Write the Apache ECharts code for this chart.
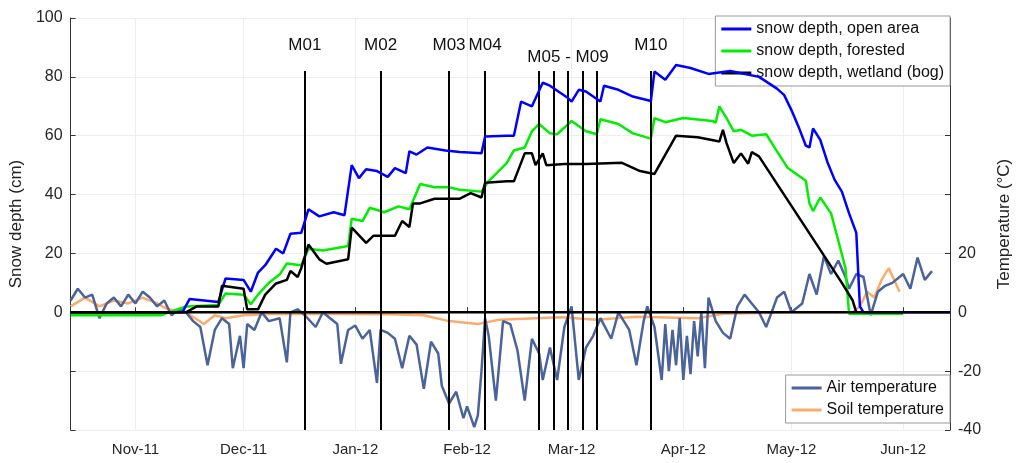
<!DOCTYPE html>
<html><head><meta charset="utf-8">
<script src="https://cdn.jsdelivr.net/npm/echarts@6/dist/echarts.min.js"></script>
<style>html,body{margin:0;padding:0;background:#fff}#c{width:1021px;height:463px}</style>
</head><body><div id="c"></div>
<script>
const openDates=['2011-10-14','2011-11-14','2011-11-16','2011-11-24','2011-11-26','2011-12-01','2011-12-03','2011-12-05','2011-12-07','2011-12-10','2011-12-12','2011-12-14','2011-12-17','2011-12-19','2011-12-22','2011-12-26','2011-12-29','2011-12-31','2012-01-02','2012-01-04','2012-01-07','2012-01-10','2012-01-12','2012-01-15','2012-01-16','2012-01-18','2012-01-21','2012-01-26','2012-01-30','2012-02-05','2012-02-06','2012-02-12','2012-02-14','2012-02-16','2012-02-19','2012-02-22','2012-02-24','2012-02-29','2012-03-01','2012-03-03','2012-03-05','2012-03-09','2012-03-10','2012-03-14','2012-03-18','2012-03-23','2012-03-24','2012-03-27','2012-03-30','2012-04-03','2012-04-08','2012-04-14','2012-04-22','2012-04-27','2012-04-29','2012-05-01','2012-05-03','2012-05-05','2012-05-06','2012-05-07','2012-05-09','2012-05-11','2012-05-13','2012-05-15','2012-05-17','2012-05-19','2012-05-20','2012-05-21','2012-06-14'];
const openVals=[0,0,4.5,3.5,11.5,11,7,13.5,16,21.6,20,26.7,27,35,32.6,34,33,50,45.6,48.6,48,46,49,47.3,54.7,53.6,56,55,54.5,54,59.7,60,60,71.6,70,78,77,72.8,71.6,75.6,75,71.6,77,75.6,73.3,71.8,81.8,79,84,83,81,82,80,76,73.8,68.7,63,56.6,56,62.5,58.6,51,45,41,33.6,27,2,0,0];
const forestDates=['2011-10-14','2011-11-08','2011-11-15','2011-11-24','2011-11-26','2011-12-01','2011-12-03','2011-12-05','2011-12-08','2011-12-11','2011-12-13','2011-12-17','2011-12-19','2011-12-23','2011-12-30','2011-12-31','2012-01-03','2012-01-05','2012-01-09','2012-01-13','2012-01-16','2012-01-19','2012-01-23','2012-01-27','2012-01-30','2012-02-05','2012-02-07','2012-02-12','2012-02-14','2012-02-17','2012-02-19','2012-02-21','2012-02-24','2012-02-26','2012-03-01','2012-03-05','2012-03-08','2012-03-09','2012-03-14','2012-03-18','2012-03-23','2012-03-24','2012-03-27','2012-04-01','2012-04-09','2012-04-10','2012-04-11','2012-04-13','2012-04-15','2012-04-17','2012-04-20','2012-04-24','2012-04-27','2012-04-30','2012-05-05','2012-05-06','2012-05-07','2012-05-09','2012-05-12','2012-05-14','2012-05-16','2012-05-17','2012-06-01'];
const forestVals=[-1,-1,2,2.5,6.4,6,2.7,6,10,12.8,16.6,16,21.6,21,22.5,31.8,31,35.5,34,36,35,43.6,42.5,42.5,41.6,41,44.6,50.7,55,56,61.5,64,60.8,60.5,65,61.5,60.5,65.6,64,60.8,59,66,64.6,66,65,64.5,70,66,61.5,62,60,60.5,54.7,49,44.7,37,34.4,39,33.6,24.4,15,-0.5,-0.5];
const bogDates=['2011-10-14','2011-11-15','2011-11-18','2011-11-24','2011-11-25','2011-12-01','2011-12-02','2011-12-05','2011-12-07','2011-12-10','2011-12-13','2011-12-14','2011-12-16','2011-12-17','2011-12-19','2011-12-22','2011-12-24','2011-12-30','2011-12-31','2012-01-04','2012-01-06','2012-01-12','2012-01-14','2012-01-16','2012-01-17','2012-01-19','2012-01-23','2012-01-30','2012-02-02','2012-02-05','2012-02-06','2012-02-12','2012-02-14','2012-02-17','2012-02-19','2012-02-20','2012-02-22','2012-02-23','2012-02-28','2012-03-05','2012-03-15','2012-03-20','2012-03-24','2012-03-30','2012-04-05','2012-04-10','2012-04-11','2012-04-12','2012-04-13','2012-04-15','2012-04-17','2012-04-19','2012-04-20','2012-04-22','2012-05-15','2012-05-18','2012-05-19'];
const bogVals=[0,0,2,2,9,8,1,1,6,9.8,11,14,12,15,23,18,16.5,18,28.8,23.6,26,26,31,29,37,37,38.6,38.6,40.5,39,44,44.5,44.5,54,54,50,54,50,50.4,50.4,50.8,48,47,60,59.5,58.3,58,62,57.5,50.7,54,50.5,54.4,53,10,4,0];
const airDates=['2011-10-14','2011-10-16','2011-10-18','2011-10-20','2011-10-22','2011-10-24','2011-10-26','2011-10-28','2011-10-30','2011-11-01','2011-11-03','2011-11-05','2011-11-07','2011-11-09','2011-11-11','2011-11-13','2011-11-15','2011-11-17','2011-11-19','2011-11-21','2011-11-23','2011-11-25','2011-11-27','2011-11-28','2011-11-30','2011-12-01','2011-12-02','2011-12-04','2011-12-06','2011-12-08','2011-12-11','2011-12-13','2011-12-14','2011-12-16','2011-12-18','2011-12-21','2011-12-23','2011-12-25','2011-12-27','2011-12-28','2011-12-30','2012-01-01','2012-01-03','2012-01-05','2012-01-07','2012-01-08','2012-01-10','2012-01-12','2012-01-14','2012-01-16','2012-01-18','2012-01-20','2012-01-22','2012-01-24','2012-01-25','2012-01-27','2012-01-29','2012-01-31','2012-02-01','2012-02-03','2012-02-04','2012-02-05','2012-02-06','2012-02-07','2012-02-09','2012-02-11','2012-02-13','2012-02-15','2012-02-17','2012-02-19','2012-02-21','2012-02-22','2012-02-24','2012-02-26','2012-02-28','2012-03-01','2012-03-03','2012-03-05','2012-03-07','2012-03-09','2012-03-12','2012-03-14','2012-03-17','2012-03-19','2012-03-21','2012-03-22','2012-03-24','2012-03-26','2012-03-27','2012-03-28','2012-03-29','2012-03-30','2012-03-31','2012-04-01','2012-04-02','2012-04-03','2012-04-04','2012-04-05','2012-04-06','2012-04-07','2012-04-08','2012-04-10','2012-04-12','2012-04-14','2012-04-16','2012-04-18','2012-04-20','2012-04-22','2012-04-24','2012-04-27','2012-04-29','2012-05-01','2012-05-04','2012-05-06','2012-05-08','2012-05-10','2012-05-12','2012-05-14','2012-05-16','2012-05-17','2012-05-19','2012-05-21','2012-05-23','2012-05-25','2012-05-27','2012-05-29','2012-06-01','2012-06-03','2012-06-05','2012-06-07','2012-06-09','2012-06-11','2012-06-13'];
const airVals=[4,8,5,6,-2,3,5,2,6,3,7,5,2,4,-1,1,0,-3,-5,-18,-6,-2,-4,-19,-8,-19,-4,-6,0,-3,-2,-17,0,1,-1,-5,0,-2,-4,-17.5,-6,-4.5,-9,-6,-24,-6,-7,-9,-19,-8,-11,-26,-10,-14,-25,-31,-27,-36,-32,-39,-35,-20,-2,-8,-30,-3,-4,-13,-30,-9,-14,-23,-12,-23,-5,2,-23,-12,-8,-2,-9,0,-6,-18,-3,2,-5,-23,-4,-20,-6,-18,-2,-23,-8,-21,-3,-15,0,-19,5,-3,-7,-9,2,6,3,0,-5,5,7,0,3,13,6,19,13,17.6,12,8,13,12,-1,7,9,10,13,8,18.6,11,14];
const soilDates=['2011-10-14','2011-10-18','2011-10-22','2011-10-26','2011-10-30','2011-11-03','2011-11-07','2011-11-10','2011-11-15','2011-11-20','2011-11-23','2011-11-26','2011-12-01','2011-12-10','2012-01-10','2012-01-20','2012-01-27','2012-02-04','2012-02-10','2012-02-20','2012-02-27','2012-03-08','2012-03-19','2012-04-05','2012-04-12','2012-05-01','2012-05-18','2012-05-20','2012-05-22','2012-05-24','2012-05-26','2012-05-28','2012-05-31'];
const soilVals=[2,5,2,4,3,5,3,1,0,-4,-1,-2,-1,-0.5,-0.7,-1,-3,-4,-2.5,-2,-1.7,-2.5,-1.5,-2,-0.5,0,0,2,7,5,11,15,7];
const markDates=['2011-12-18','2012-01-08','2012-01-27','2012-02-06','2012-02-21','2012-02-25','2012-02-29','2012-03-04','2012-03-08','2012-03-23'];
const markNames=['M01','M02','M03','M04','','','M05 - M09','','','M10'];
const monthNames=['Jan','Feb','Mar','Apr','May','Jun','Jul','Aug','Sep','Oct','Nov','Dec'];

const zip=(d,v)=>d.map((x,i)=>[x,v[i]]);
const ml=markDates.map((d,i)=>[
 {coord:[d,82],label:{show:!!markNames[i],formatter:markNames[i],position:'start',distance:markNames[i]==='M05 - M09'?5:17,fontSize:17,color:'#111'}},
 {coord:[d,-40]}]);
const chart=echarts.init(document.getElementById('c'));
const F='Arial, Liberation Sans, sans-serif';
const lg={orient:'vertical',right:71,itemGap:6,itemWidth:30,itemHeight:3,padding:[5,6,5,6],borderColor:'#999',borderWidth:1,backgroundColor:'#fff',textStyle:{fontSize:16,color:'#111',fontFamily:F},icon:'rect'};
chart.setOption({
 animation:false,
 textStyle:{fontFamily:F},
 grid:{left:70,right:66,top:18,bottom:33},
 legend:[
  Object.assign({data:['snow depth, open area','snow depth, forested','snow depth, wetland (bog)'],top:16},lg),
  Object.assign({data:['Air temperature','Soil temperature'],top:375},lg)
 ],
 xAxis:{type:'time',min:'2011-10-14',max:'2012-06-14',splitNumber:8,minInterval:28*864e5,
  axisLine:{lineStyle:{color:'#333'}},axisTick:{inside:true,length:5,lineStyle:{color:'#333'}},
  splitLine:{show:true,lineStyle:{color:'#eee'}},
  axisLabel:{fontSize:15,color:'#262626',margin:12,hideOverlap:true,formatter:v=>{const d=new Date(v);return monthNames[d.getMonth()]+'-'+String(d.getFullYear()).slice(2);}}},
 yAxis:[
  {type:'value',min:-40,max:100,interval:20,name:'Snow depth (cm)',nameLocation:'middle',nameGap:34,nameTextStyle:{fontSize:17,color:'#222'},
   axisLine:{show:true,lineStyle:{color:'#333'}},axisTick:{show:true,inside:true,length:5},
   splitLine:{show:true,lineStyle:{color:'#eee'}},
   axisLabel:{fontSize:16,color:'#262626',formatter:v=>v<0?'':v}},
  {type:'value',min:-40,max:100,interval:20,name:'Temperature (°C)',nameLocation:'middle',nameGap:46,nameRotate:90,nameTextStyle:{fontSize:17,color:'#222'},
   position:'right',axisLine:{show:true,lineStyle:{color:'#333'}},axisTick:{show:true,inside:true,length:5},splitLine:{show:false},
   axisLabel:{fontSize:16,color:'#262626',formatter:v=>v>20?'':v}}
 ],
 series:[
  {name:'Soil temperature',type:'line',showSymbol:false,data:zip(soilDates,soilVals),lineStyle:{color:'#fdab6a',width:2.5},itemStyle:{color:'#fdab6a'},z:2},
  {name:'Air temperature',type:'line',showSymbol:false,data:zip(airDates,airVals),lineStyle:{color:'#4a639a',width:2.5},itemStyle:{color:'#4a639a'},z:3},
  {name:'snow depth, forested',type:'line',showSymbol:false,data:zip(forestDates,forestVals),lineStyle:{color:'#00ee00',width:2.5},itemStyle:{color:'#00ee00'},z:4},
  {name:'snow depth, open area',type:'line',showSymbol:false,data:zip(openDates,openVals),lineStyle:{color:'#0000ff',width:2.5},itemStyle:{color:'#0000ff'},z:5},
  {name:'snow depth, wetland (bog)',type:'line',showSymbol:false,data:zip(bogDates,bogVals),lineStyle:{color:'#000',width:2.5},itemStyle:{color:'#000'},z:6,
   markLine:{silent:true,symbol:'none',lineStyle:{color:'#000',width:2,type:'solid'},data:ml}},
  {name:'zero',type:'line',showSymbol:false,data:[['2011-10-14',0],['2012-06-14',0]],lineStyle:{color:'#000',width:2.5},z:7}
 ]
});
</script></body></html>
